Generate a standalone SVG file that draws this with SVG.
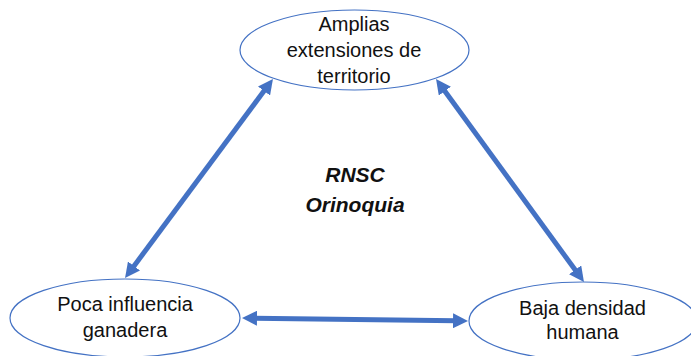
<svg xmlns="http://www.w3.org/2000/svg" width="691" height="356" viewBox="0 0 691 356">
  <style>
    .node ellipse { fill: #ffffff; stroke: #4472C4; stroke-width: 1.2; }
    .node text { font-family: "Liberation Sans", Arial, sans-serif; font-size: 20px; fill: #111111; text-anchor: middle; }
    .conn line { stroke: #4472C4; stroke-width: 5; marker-start: url(#arrow); marker-end: url(#arrow); }
    .title { font-family: "Liberation Sans", Arial, sans-serif; font-size: 21px; font-weight: bold; font-style: italic; fill: #111111; text-anchor: middle; }
  </style>
  <defs>
    <marker id="arrow" viewBox="0 0 10 10" refX="2" refY="5" markerWidth="3" markerHeight="3" orient="auto-start-reverse">
      <path d="M0,0 L10,5 L0,10 z" fill="#4472C4"/>
    </marker>
  </defs>
  <rect width="691" height="356" fill="#ffffff"/>
  <g id="connectors" class="conn">
    <line x1="265.8" y1="88.6" x2="132.2" y2="268.4"/>
    <line x1="443.1" y1="88.7" x2="576.9" y2="272.3"/>
    <line x1="254" y1="318.2" x2="456" y2="320.8"/>
  </g>
  <g id="node-amplias" class="node">
    <ellipse cx="354.5" cy="50" rx="114.5" ry="40"/>
    <text x="354" y="31">Amplias</text>
    <text x="354" y="57">extensiones de</text>
    <text x="354" y="83">territorio</text>
  </g>
  <g id="node-poca" class="node">
    <ellipse cx="125" cy="318" rx="115" ry="39"/>
    <text x="125" y="311">Poca influencia</text>
    <text x="125" y="337">ganadera</text>
  </g>
  <g id="node-baja" class="node">
    <ellipse cx="583" cy="321" rx="114" ry="39"/>
    <text x="582.5" y="315">Baja densidad</text>
    <text x="582.5" y="339">humana</text>
  </g>
  <g id="label-rnsc">
    <text class="title" x="355" y="182">RNSC</text>
    <text class="title" x="355" y="212">Orinoquia</text>
  </g>
</svg>
